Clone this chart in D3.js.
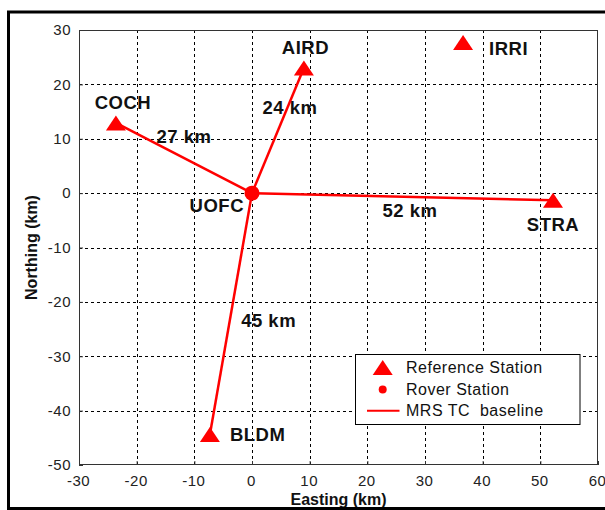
<!DOCTYPE html>
<html>
<head>
<meta charset="utf-8">
<script src="https://cdn.jsdelivr.net/npm/d3@7/dist/d3.min.js"></script>
<style>
  html, body { margin: 0; padding: 0; background: #fff; }
  svg { display: block; }
  text { font-family: Arial, "Liberation Sans", sans-serif; }
</style>
</head>
<body>
<svg id="chart" width="605" height="510"></svg>
<script>
// Reference stations (easting / northing in km relative to UOFC)
const stationNames = ["AIRD", "IRRI", "COCH", "STRA", "BLDM"];
const stationEasting = [9.0, 36.6, -23.6, 52.2, -7.3];
const stationNorthing = [23.0, 27.7, 12.9, -1.3, -44.4];

// Rover station
const roverName = "UOFC";
const roverEasting = 0;
const roverNorthing = 0;

// Baselines from the rover to each connected reference station
const baselineTo = ["AIRD", "COCH", "STRA", "BLDM"];
const baselineKm = [24, 27, 52, 45];

// Axis ticks
const xTicks = [-30, -20, -10, 0, 10, 20, 30, 40, 50, 60];
const yTicks = [-50, -40, -30, -20, -10, 0, 10, 20, 30];

// Legend entries
const legendLabels = ["Reference Station", "Rover Station", "MRS TC  baseline"];

// ---- layout ----
const plot = { left: 79, top: 30, right: 598, bottom: 465 };
const RED = "#ff0000";

// Label placement (pixel offsets from marker / baseline midpoint)
const stationLabelLayout = {
  AIRD: { dx: 1.5, dy: -14, anchor: "middle" },
  IRRI: { dx: 26, dy: 12.5, anchor: "start" },
  COCH: { dx: 7, dy: -13.7, anchor: "middle" },
  STRA: { dx: 0, dy: 30.8, anchor: "middle" },
  BLDM: { dx: 20, dy: 6, anchor: "start" }
};
const roverLabelLayout = { dx: -8, dy: 18.7, anchor: "end" };
const distLabelLayout = {
  AIRD: { dx: 12, dy: -16.3 },
  COCH: { dx: 0, dy: -14.8 },
  STRA: { dx: 7.5, dy: 20 },
  BLDM: { dx: 37.7, dy: 12.9 }
};

const svg = d3.select("#chart");

const x = d3.scaleLinear().domain([-30, 60]).range([plot.left, plot.right]);
const y = d3.scaleLinear().domain([-50, 30]).range([plot.bottom, plot.top]);

const stations = stationNames.map((n, i) => ({ name: n, e: stationEasting[i], n: stationNorthing[i] }));
const byName = Object.fromEntries(stations.map(s => [s.name, s]));

// Triangle marker path (20 wide, 15 tall) centred on the point
const triPath = "M0,-7.5L10,7.5L-10,7.5Z";

// plain hyphen-minus tick labels
const tickFmt = d => String(d);

// white plot background
svg.append("rect")
  .attr("x", plot.left).attr("y", plot.top)
  .attr("width", plot.right - plot.left).attr("height", plot.bottom - plot.top)
  .attr("fill", "#fff");

// grid
const grid = svg.append("g").attr("stroke", "#000").attr("stroke-width", 1)
  .attr("stroke-dasharray", "3,3").attr("shape-rendering", "crispEdges");
grid.selectAll("line.gx").data(xTicks.filter(t => t > -30 && t < 60)).join("line")
  .attr("x1", d => Math.round(x(d)) + 0.5).attr("x2", d => Math.round(x(d)) + 0.5)
  .attr("y1", plot.top).attr("y2", plot.bottom);
grid.selectAll("line.gy").data(yTicks.filter(t => t > -50 && t < 30)).join("line")
  .attr("y1", d => Math.round(y(d)) + 0.5).attr("y2", d => Math.round(y(d)) + 0.5)
  .attr("x1", plot.left).attr("x2", plot.right);

// axes (ticks inward, labels outside)
const xAxis = svg.append("g").attr("transform", `translate(0,${plot.bottom})`)
  .call(d3.axisBottom(x).tickValues(xTicks).tickSize(-4).tickPadding(10).tickFormat(tickFmt));
const yAxis = svg.append("g").attr("transform", `translate(${plot.left},0)`)
  .call(d3.axisLeft(y).tickValues(yTicks).tickSize(-4).tickPadding(8).tickFormat(tickFmt));
[xAxis, yAxis].forEach(a => {
  a.select(".domain").remove();
  a.selectAll(".tick line").attr("stroke", "#333");
  a.selectAll(".tick text")
    .attr("fill", "#222")
    .style("font-size", "15px")
    .style("letter-spacing", "0.5px")
    .style("font-family", "Arial, 'Liberation Sans', sans-serif");
});
xAxis.selectAll(".tick text").attr("dx", -1);

// baselines
svg.append("g").selectAll("line").data(baselineTo).join("line")
  .attr("x1", x(roverEasting)).attr("y1", y(roverNorthing))
  .attr("x2", d => x(byName[d].e)).attr("y2", d => y(byName[d].n))
  .attr("stroke", RED).attr("stroke-width", 2.5);

// reference station markers
svg.append("g").selectAll("path").data(stations).join("path")
  .attr("d", triPath)
  .attr("transform", d => `translate(${x(d.e)},${y(d.n)})`)
  .attr("fill", RED);

// rover marker
svg.append("circle")
  .attr("cx", x(roverEasting)).attr("cy", y(roverNorthing)).attr("r", 7.5)
  .attr("fill", RED);

// station labels
const lbl = svg.append("g").attr("font-weight", "bold").attr("font-size", "18.5px")
  .attr("letter-spacing", "0.5px").attr("fill", "#111");
lbl.selectAll("text.st").data(stations).join("text")
  .attr("x", d => x(d.e) + stationLabelLayout[d.name].dx)
  .attr("y", d => y(d.n) + stationLabelLayout[d.name].dy)
  .attr("text-anchor", d => stationLabelLayout[d.name].anchor)
  .text(d => d.name);
lbl.append("text")
  .attr("x", x(roverEasting) + roverLabelLayout.dx)
  .attr("y", y(roverNorthing) + roverLabelLayout.dy)
  .attr("text-anchor", roverLabelLayout.anchor)
  .text(roverName);

// baseline length labels
lbl.selectAll("text.dist").data(baselineTo).join("text")
  .attr("x", (d) => (x(roverEasting) + x(byName[d].e)) / 2 + distLabelLayout[d].dx)
  .attr("y", (d) => (y(roverNorthing) + y(byName[d].n)) / 2 + distLabelLayout[d].dy)
  .attr("text-anchor", "middle")
  .text((d, i) => `${baselineKm[i]} km`);

// legend
const lg = svg.append("g");
lg.append("rect").attr("x", 355.5).attr("y", 354.5).attr("width", 224.5).attr("height", 70)
  .attr("fill", "#fff").attr("stroke", "#000").attr("stroke-width", 1);
const rowY = [367.5, 389.5, 410.7];
lg.append("path").attr("d", triPath).attr("transform", `translate(382.7,${rowY[0]})`).attr("fill", RED);
lg.append("circle").attr("cx", 382.7).attr("cy", rowY[1]).attr("r", 4).attr("fill", RED);
lg.append("line").attr("x1", 367).attr("x2", 399.5).attr("y1", rowY[2]).attr("y2", rowY[2])
  .attr("stroke", RED).attr("stroke-width", 2);
lg.selectAll("text").data(legendLabels).join("text")
  .attr("x", 406).attr("y", (d, i) => [373.3, 394.5, 416][i])
  .attr("font-size", "16px").attr("letter-spacing", "0.5px").attr("fill", "#111")
  .attr("xml:space", "preserve").style("white-space", "pre")
  .text(d => d);

// axis box
svg.append("rect")
  .attr("x", plot.left + 0.5).attr("y", plot.top + 0.5)
  .attr("width", plot.right - plot.left - 1).attr("height", plot.bottom - plot.top - 1)
  .attr("fill", "none").attr("stroke", "#333").attr("stroke-width", 1);

// axis titles
svg.append("text")
  .attr("x", (plot.left + plot.right) / 2).attr("y", 505)
  .attr("text-anchor", "middle").attr("font-weight", "bold").attr("font-size", "16px")
  .attr("fill", "#111")
  .text("Easting (km)");
svg.append("text")
  .attr("transform", `translate(37,${(plot.top + plot.bottom) / 2}) rotate(-90)`)
  .attr("text-anchor", "middle").attr("font-weight", "bold").attr("font-size", "16px")
  .attr("fill", "#111")
  .text("Northing (km)");

// outer frame
svg.append("rect").attr("x", 8.5).attr("y", 12).attr("width", 610).attr("height", 496.5)
  .attr("fill", "none").attr("stroke", "#000").attr("stroke-width", 3);
</script>
</body>
</html>
